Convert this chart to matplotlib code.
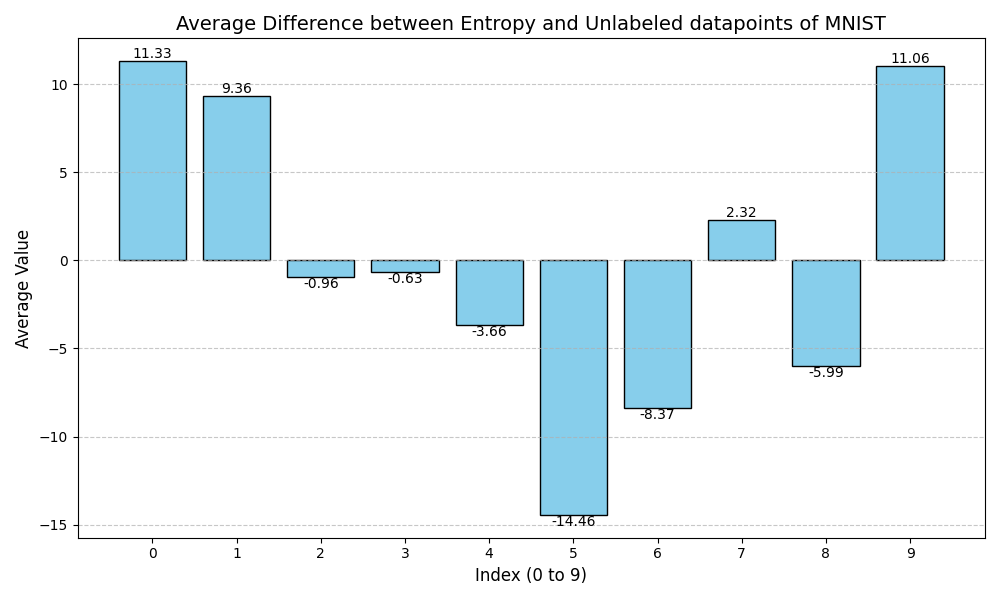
import matplotlib
matplotlib.use("Agg")
import matplotlib.pyplot as plt

indices = list(range(10))
avg_values = [11.33, 9.36, -0.96, -0.63, -3.66, -14.46, -8.37, 2.32, -5.99, 11.06]


def main():
    fig, ax = plt.subplots(figsize=(10, 6), dpi=100)
    bars = ax.bar(indices, avg_values, color="skyblue", edgecolor="black")

    for bar, val in zip(bars, avg_values):
        x = bar.get_x() + bar.get_width() / 2
        va = "bottom" if val >= 0 else "top"
        ax.text(x, val, f"{val:.2f}", ha="center", va=va)

    ax.set_title("Average Difference between Entropy and Unlabeled datapoints of MNIST", fontsize=14)
    ax.set_xlabel("Index (0 to 9)", fontsize=12)
    ax.set_ylabel("Average Value", fontsize=12)
    ax.set_xticks(indices)
    ax.grid(axis="y", linestyle="--", alpha=0.7)

    plt.tight_layout()
    plt.savefig("out.png")
    plt.close()


if __name__ == "__main__":
    main()
